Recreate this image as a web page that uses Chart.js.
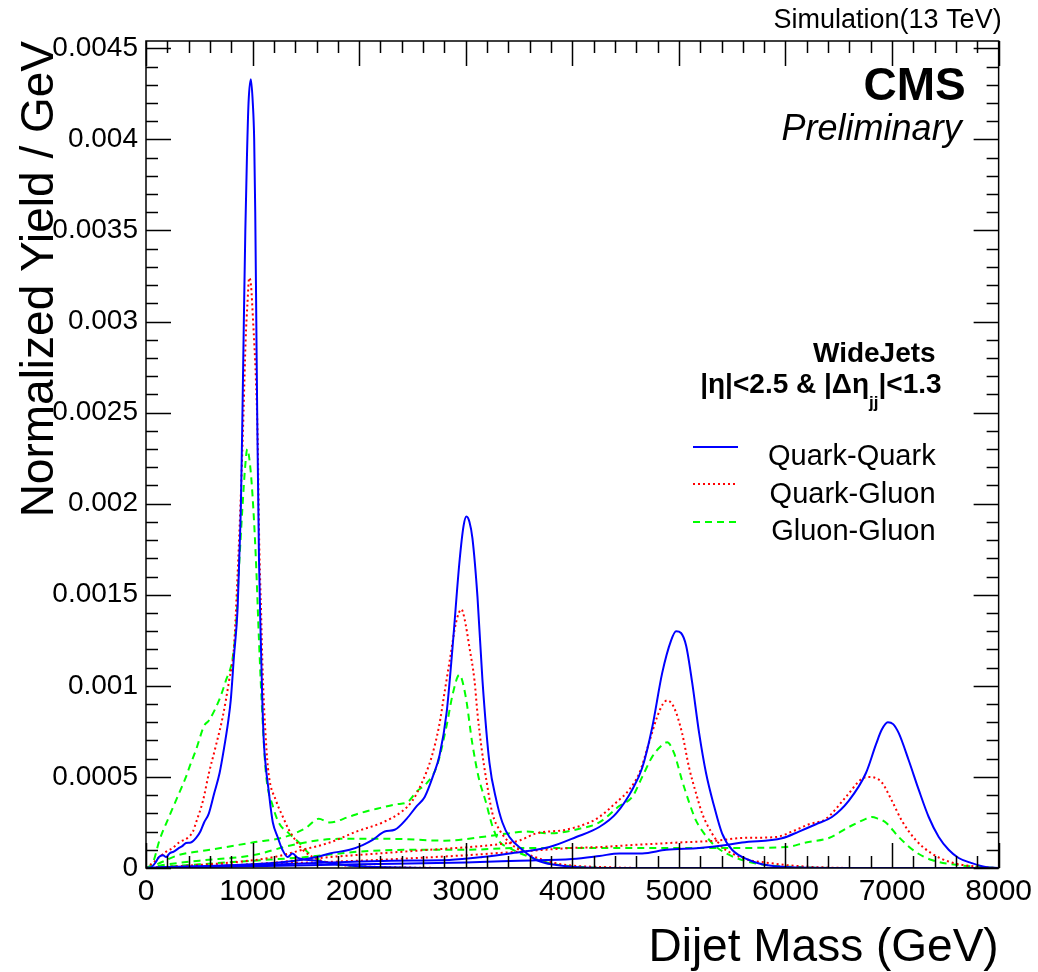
<!DOCTYPE html>
<html><head><meta charset="utf-8">
<script src="https://cdn.jsdelivr.net/npm/chart.js@4.4.1/dist/chart.umd.min.js"></script>
<style>html,body{margin:0;padding:0;background:#fff;}canvas{display:block;}</style>
</head><body>
<canvas id="c" width="1038" height="972"></canvas>
<script>
const FONT = '"Liberation Sans", Arial, Helvetica, sans-serif';

// ---- axis ticks ----
const xTickValues = [0,1000,2000,3000,4000,5000,6000,7000,8000];
const xTickLabels = ['0','1000','2000','3000','4000','5000','6000','7000','8000'];
const yTickValues = [0,0.0005,0.001,0.0015,0.002,0.0025,0.003,0.0035,0.004,0.0045];
const yTickLabels = ['0','0.0005','0.001','0.0015','0.002','0.0025','0.003','0.0035','0.004','0.0045'];
const xMinorStep = 200;
const yMinorStep = 0.0001;
const xRange = [0, 8000];
const yRange = [0, 0.00454];

// ---- series: [dijet mass (GeV), normalized yield / GeV] ----
const qq1000 = [[0,0],[50,0.000005],[90,0.00003],[120,0.00006],[160,0.00007],[190,0.00006],[220,0.00008],[260,0.00009],[310,0.00011],[340,0.00012],[375,0.000137],[420,0.00014],[470,0.000165],[510,0.0002],[545,0.00025],[590,0.0003],[640,0.00041],[690,0.00052],[730,0.00065],[770,0.0008],[795,0.00092],[825,0.00116],[860,0.00143],[875,0.0017],[890,0.00198],[905,0.0025],[918,0.003],[932,0.0035],[947,0.0039],[962,0.0042],[984,0.00433],[1002,0.0042],[1015,0.004],[1025,0.0036],[1035,0.003],[1045,0.0024],[1060,0.0017],[1077,0.00125],[1090,0.00095],[1105,0.0007],[1125,0.00055],[1150,0.00043],[1170,0.00033],[1190,0.00025],[1235,0.00017],[1280,0.0001],[1330,0.00006],[1375,0.00008],[1425,0.000055],[1500,0.000045],[1600,0.00004],[1750,0.000025],[2000,0.00001],[2500,0.000002],[3000,0],[8000,0]];
const qg1000 = [[0,0],[45,0.00002],[90,0.00004],[125,0.00006],[190,0.00009],[250,0.00011],[310,0.00014],[400,0.00017],[440,0.0002],[470,0.00025],[535,0.00037],[590,0.00052],[655,0.00067],[720,0.00083],[780,0.00103],[825,0.00121],[860,0.00162],[890,0.00205],[915,0.0025],[935,0.0029],[952,0.0031],[968,0.00324],[985,0.0032],[1005,0.003],[1030,0.0027],[1048,0.00235],[1062,0.0018],[1080,0.0014],[1095,0.00107],[1125,0.0007],[1150,0.00052],[1220,0.00037],[1285,0.00028],[1340,0.00021],[1405,0.00015],[1470,0.0001],[1600,0.00005],[1800,0.00002],[2000,0.00001],[2500,0.000002],[3000,0],[8000,0]];
const gg1000 = [[0,0],[65,0.00003],[125,0.00015],[215,0.00028],[310,0.00041],[375,0.0005],[405,0.00055],[470,0.00065],[545,0.00078],[590,0.00081],[685,0.00092],[750,0.00103],[815,0.00116],[845,0.00134],[870,0.00162],[905,0.00198],[930,0.0022],[950,0.0023],[975,0.00222],[1000,0.00204],[1030,0.00171],[1060,0.00125],[1095,0.0008],[1125,0.00052],[1190,0.00034],[1245,0.00025],[1340,0.00019],[1435,0.00014],[1530,0.00008],[1700,0.00003],[2000,0.00001],[2500,0],[8000,0]];

const qq3000 = [[0,0],[200,0.000005],[500,0.00001],[1000,0.00002],[1400,0.00004],[1600,0.00006],[1724,0.00008],[1911,0.0001],[2033,0.000126],[2127,0.000154],[2240,0.0002],[2333,0.00021],[2445,0.00027],[2540,0.00034],[2615,0.00039],[2690,0.0005],[2755,0.00062],[2820,0.00085],[2876,0.00121],[2941,0.00168],[2980,0.00188],[3007,0.00193],[3035,0.0019],[3063,0.00181],[3110,0.00149],[3157,0.00103],[3222,0.00058],[3288,0.00037],[3344,0.00025],[3410,0.00017],[3532,0.0001],[3663,0.000044],[3850,0.000016],[4094,0.000003],[4500,0],[8000,0]];
const qg3000 = [[0,0],[300,0.00001],[800,0.00003],[1200,0.00006],[1470,0.0001],[1724,0.00014],[1975,0.0002],[2220,0.00025],[2400,0.00031],[2500,0.00037],[2590,0.00047],[2680,0.00061],[2750,0.00078],[2800,0.00096],[2850,0.00114],[2910,0.00135],[2960,0.00142],[2988,0.00137],[3035,0.00121],[3082,0.00103],[3110,0.00085],[3148,0.00066],[3194,0.00048],[3250,0.0003],[3316,0.00021],[3410,0.00014],[3532,0.00009],[3700,0.00005],[3900,0.00002],[4300,0.000005],[4700,0],[8000,0]];
const gg3000 = [[0,0],[100,0.00002],[300,0.00007],[600,0.0001],[1000,0.00014],[1300,0.00017],[1500,0.00022],[1620,0.00027],[1724,0.00025],[1900,0.00028],[2000,0.0003],[2200,0.00033],[2350,0.00035],[2450,0.00036],[2540,0.00042],[2640,0.00047],[2730,0.00056],[2820,0.00078],[2880,0.00096],[2940,0.00106],[3000,0.00094],[3060,0.00069],[3120,0.0005],[3190,0.00036],[3250,0.00023],[3310,0.00015],[3410,0.00011],[3600,0.00006],[3850,0.00002],[4100,0.000005],[4500,0],[8000,0]];

const qq5000 = [[0,0],[500,0.000008],[1000,0.000015],[1724,0.00003],[2300,0.00004],[2848,0.000044],[3157,0.00006],[3410,0.00008],[3785,0.000115],[4037,0.00017],[4253,0.000225],[4412,0.0003],[4562,0.00043],[4656,0.00055],[4749,0.00077],[4843,0.00107],[4927,0.00125],[4974,0.0013],[5020,0.00129],[5068,0.00122],[5124,0.00102],[5190,0.00074],[5255,0.00052],[5330,0.00034],[5405,0.00019],[5499,0.0001],[5658,0.000044],[5817,0.000016],[6005,0.000005],[6500,0],[8000,0]];
const qg5000 = [[0,0],[1000,0.00002],[1724,0.00006],[2190,0.00008],[2660,0.0001],[3035,0.000115],[3300,0.00013],[3500,0.00015],[3660,0.00019],[3940,0.00021],[4160,0.00025],[4253,0.00028],[4412,0.00036],[4534,0.00043],[4628,0.00052],[4721,0.00069],[4796,0.00083],[4850,0.0009],[4890,0.00092],[4955,0.00088],[5030,0.00074],[5096,0.00055],[5161,0.00041],[5218,0.0003],[5311,0.00019],[5405,0.000115],[5499,0.00008],[5658,0.000044],[5817,0.00003],[6005,0.000016],[6286,0.000005],[6700,0],[8000,0]];
const gg5000 = [[0,0],[200,0.00002],[500,0.00004],[1000,0.00007],[1400,0.00013],[1800,0.00016],[2300,0.00016],[2800,0.00015],[3150,0.00017],[3400,0.00019],[3570,0.0002],[3780,0.00019],[4100,0.00022],[4253,0.00025],[4440,0.00034],[4562,0.00039],[4656,0.0005],[4749,0.00061],[4833,0.00067],[4890,0.00069],[4955,0.00063],[5030,0.00048],[5096,0.00036],[5161,0.00026],[5236,0.00019],[5330,0.000126],[5443,0.00008],[5593,0.000044],[5817,0.000016],[6126,0.000005],[6500,0],[8000,0]];

const qq7000 = [[0,0],[500,0.000005],[1000,0.00001],[2000,0.00002],[3000,0.00003],[3500,0.00004],[4000,0.00005],[4253,0.000066],[4440,0.00008],[4656,0.00008],[4880,0.0001],[5190,0.00011],[5443,0.000126],[5593,0.00014],[5967,0.000163],[6126,0.0002],[6286,0.00024],[6436,0.00028],[6595,0.00037],[6754,0.00052],[6850,0.00068],[6904,0.00076],[6960,0.0008],[7010,0.00079],[7063,0.00074],[7157,0.00059],[7250,0.00043],[7344,0.00028],[7438,0.00017],[7531,0.0001],[7625,0.000055],[7747,0.000027],[7878,0.000005],[8000,0]];
const qg7000 = [[0,0],[500,0.00001],[1000,0.00002],[2000,0.00004],[3000,0.00007],[3500,0.00009],[4000,0.00011],[4253,0.000115],[4562,0.000126],[5002,0.00014],[5349,0.00015],[5593,0.000165],[5911,0.00017],[6061,0.0002],[6220,0.00024],[6380,0.00027],[6567,0.00039],[6717,0.00049],[6790,0.0005],[6860,0.00049],[6904,0.00047],[6998,0.00037],[7091,0.00026],[7222,0.000154],[7372,0.00008],[7560,0.00003],[7840,0.000005],[8000,0]];
const gg7000 = [[0,0],[500,0.00002],[1000,0.00004],[1500,0.00006],[2000,0.00009],[2500,0.0001],[3000,0.0001],[3500,0.00011],[4253,0.00011],[4880,0.00011],[5500,0.00011],[6005,0.000115],[6192,0.00014],[6408,0.000165],[6595,0.000225],[6754,0.00027],[6810,0.00028],[6870,0.00027],[6941,0.00025],[7063,0.00017],[7222,0.000088],[7372,0.000044],[7625,0.000016],[7840,0.000005],[8000,0]];

const seriesNames = ['Quark-Quark','Quark-Gluon','Gluon-Gluon'];
const seriesCurves = [[qq1000,qq3000,qq5000,qq7000],[qg1000,qg3000,qg5000,qg7000],[gg1000,gg3000,gg5000,gg7000]];
const seriesColors = ['#0000ff','#ff0000','#00ff00'];
const seriesDash = [[],[2,3],[7,5]];

const datasets = [];
seriesCurves.forEach((curves, s) => {
  curves.forEach((pts, k) => {
    datasets.push({
      label: seriesNames[s],
      legendEntry: k === 0,
      data: pts.map(p => ({x: p[0], y: p[1]})),
      borderColor: seriesColors[s],
      borderDash: seriesDash[s],
      borderWidth: 2,
      pointRadius: 0,
      fill: false,
      cubicInterpolationMode: 'monotone',
      borderCapStyle: 'butt'
    });
  });
});

const framePlugin = {
  id: 'rootFrame',
  afterDraw(chart) {
    const ctx = chart.ctx;
    const xs = chart.scales.x, ys = chart.scales.y;
    const a = chart.chartArea;
    ctx.save();
    ctx.strokeStyle = '#000';
    ctx.lineWidth = 1.5;
    ctx.strokeRect(a.left, a.top, a.right - a.left, a.bottom - a.top);
    const MAJ = 25, MIN = 12;
    ctx.beginPath();
    for (let i = 0; i * xMinorStep <= xRange[1] + 1e-9; i++) {
      const v = i * xMinorStep;
      const px = Math.round(xs.getPixelForValue(v)) + 0.5;
      const len = (v % 1000 === 0) ? MAJ : MIN;
      ctx.moveTo(px, a.bottom); ctx.lineTo(px, a.bottom - len);
      ctx.moveTo(px, a.top); ctx.lineTo(px, a.top + len);
    }
    for (let i = 0; i * yMinorStep <= yRange[1] + 1e-12; i++) {
      const v = i * yMinorStep;
      const py = Math.round(ys.getPixelForValue(v)) + 0.5;
      const len = (i % 5 === 0) ? MAJ : MIN;
      ctx.moveTo(a.left, py); ctx.lineTo(a.left + len, py);
      ctx.moveTo(a.right, py); ctx.lineTo(a.right - len, py);
    }
    ctx.stroke();

    // header texts
    ctx.fillStyle = '#000';
    ctx.textBaseline = 'alphabetic';
    ctx.textAlign = 'right';
    ctx.font = '27px ' + FONT;
    ctx.fillText('Simulation(13 TeV)', a.right + 3, a.top - 13);
    ctx.font = 'bold 46px ' + FONT;
    ctx.fillText('CMS', a.right - 33, a.top + 59);
    ctx.font = 'italic 36px ' + FONT;
    ctx.fillText('Preliminary', a.right - 37, a.top + 99);

    // selection text
    ctx.font = 'bold 28px ' + FONT;
    ctx.fillText('WideJets', a.right - 63, a.top + 321);
    const p1 = '|\u03B7|<2.5 & |\u0394\u03B7', sub = 'jj', p2 = '|<1.3';
    const subFont = 'bold 17px ' + FONT;
    ctx.font = 'bold 28px ' + FONT;
    const w1 = ctx.measureText(p1).width, w3 = ctx.measureText(p2).width;
    ctx.font = subFont;
    const w2 = ctx.measureText(sub).width;
    const endX = a.right - 57;
    let sx = endX - (w1 + w2 + w3);
    const base2 = a.top + 352;
    ctx.textAlign = 'left';
    ctx.font = 'bold 28px ' + FONT;
    ctx.fillText(p1, sx, base2);
    ctx.font = subFont;
    ctx.fillText(sub, sx + w1, base2 + 15);
    ctx.font = 'bold 28px ' + FONT;
    ctx.fillText(p2, sx + w1 + w2, base2);

    // legend
    const entries = chart.data.datasets.filter(d => d.legendEntry);
    const lineY = [a.top + 406, a.top + 443, a.top + 481];
    const textBase = [a.top + 424, a.top + 462, a.top + 499];
    entries.forEach((d, i) => {
      ctx.beginPath();
      ctx.strokeStyle = d.borderColor;
      ctx.lineWidth = 2;
      ctx.setLineDash(d.borderDash);
      ctx.moveTo(a.left + 547, lineY[i]);
      ctx.lineTo(a.left + 592, lineY[i]);
      ctx.stroke();
      ctx.setLineDash([]);
      ctx.fillStyle = '#000';
      ctx.font = '29px ' + FONT;
      ctx.textAlign = 'right';
      ctx.fillText(d.label, a.right - 63, textBase[i]);
    });
    ctx.restore();
  }
};

new Chart(document.getElementById('c'), {
  type: 'line',
  data: { datasets },
  options: {
    responsive: false,
    animation: false,
    layout: { padding: { top: 41, right: 38, left: 0, bottom: 0 } },
    plugins: { legend: { display: false }, tooltip: { enabled: false }, title: { display: false } },
    scales: {
      x: {
        type: 'linear', position: 'bottom', min: xRange[0], max: xRange[1],
        afterBuildTicks: s => { s.ticks = xTickValues.map(v => ({ value: v })); },
        afterFit: s => { s.height = 104; },
        grid: { display: false, drawTicks: false },
        border: { display: false },
        ticks: { color: '#000', font: { family: FONT, size: 30 }, padding: 6, maxRotation: 0, autoSkip: false,
                 callback: (v, i) => xTickLabels[i] },
        title: { display: true, text: 'Dijet Mass (GeV)', align: 'end', color: '#000',
                 font: { family: FONT, size: 46, lineHeight: 1 }, padding: { top: 0, bottom: 1 } }
      },
      y: {
        type: 'linear', position: 'left', min: yRange[0], max: yRange[1],
        afterBuildTicks: s => { s.ticks = yTickValues.map(v => ({ value: v })); },
        afterFit: s => { s.width = 146; },
        grid: { display: false, drawTicks: false },
        border: { display: false },
        ticks: { color: '#000', font: { family: FONT, size: 28 }, padding: 8, autoSkip: false,
                 callback: (v, i) => yTickLabels[i] },
        title: { display: true, text: 'Normalized Yield / GeV', align: 'end', color: '#000',
                 font: { family: FONT, size: 46, lineHeight: 1.2 }, padding: { top: 13, bottom: 0 } }
      }
    }
  },
  plugins: [framePlugin]
});
</script>
</body></html>
